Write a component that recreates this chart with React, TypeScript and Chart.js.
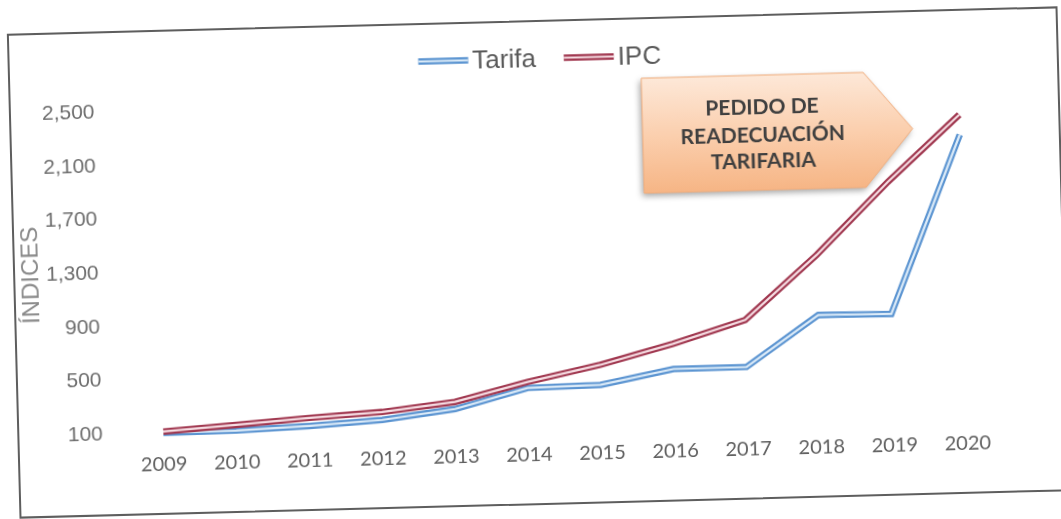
import React, { useEffect, useRef } from "react";
import { Chart, registerables } from "chart.js";

Chart.register(...registerables);

// ---- data ----
const years = ["2009", "2010", "2011", "2012", "2013", "2014", "2015", "2016", "2017", "2018", "2019", "2020"];
const tarifa = [100, 103, 123, 154, 221, 364, 373, 477, 478, 852, 845, 2169];
const ipc = [110, 145, 183, 213, 274, 409, 522, 664, 829, 1300, 1831, 2318];
const yMin = 100;
const yMax = 2500;
const yStep = 400;
const seriesNames = ["Tarifa", "IPC"];
const axisTitle = "ÍNDICES";
const calloutLines = ["PEDIDO DE", "READECUACIÓN", "TARIFARIA"];

// ---- styles ----
const TARIFA_OUTER = "#5b94d1";
const TARIFA_INNER = "#dcebf8";
const IPC_OUTER = "#a0374f";
const IPC_INNER = "#f6dde3";
const OUTER_W = 6.5;
const INNER_W = 2.2;

const CANVAS_W = 1047;
const CANVAS_H = 481;

const decorPlugin = {
  id: "decor",
  afterDraw(chart: any) {
    const ctx: CanvasRenderingContext2D = chart.ctx;

    // ---- legend (double-line symbols) ----
    ctx.save();
    ctx.font = '26px "Liberation Sans", Arial, sans-serif';
    const symW = 50;
    const gapT = 4;
    const gapItem = 28;
    const items = [
      { label: seriesNames[0], outer: TARIFA_OUTER, inner: TARIFA_INNER },
      { label: seriesNames[1], outer: IPC_OUTER, inner: IPC_INNER },
    ];
    const widths = items.map((it) => symW + gapT + ctx.measureText(it.label).width);
    const total = widths.reduce((a, b) => a + b, 0) + gapItem * (items.length - 1);
    let x = 530 - total / 2;
    const ly = 36.5;
    items.forEach((it, i) => {
      ctx.lineCap = "butt";
      ctx.beginPath();
      ctx.moveTo(x, ly);
      ctx.lineTo(x + symW, ly);
      ctx.strokeStyle = it.outer;
      ctx.lineWidth = OUTER_W;
      ctx.stroke();
      ctx.beginPath();
      ctx.moveTo(x, ly);
      ctx.lineTo(x + symW, ly);
      ctx.strokeStyle = it.inner;
      ctx.lineWidth = INNER_W;
      ctx.stroke();
      ctx.fillStyle = "#595959";
      ctx.textAlign = "left";
      ctx.textBaseline = "middle";
      ctx.fillText(it.label, x + symW + gapT, ly + 1);
      x += widths[i] + gapItem;
    });
    ctx.restore();

    // ---- callout arrow box ----
    const L = 631, S = 853, T = 901, top = 59, bot = 174;
    ctx.save();
    ctx.beginPath();
    ctx.moveTo(L, top);
    ctx.lineTo(S, top);
    ctx.lineTo(T, (top + bot) / 2);
    ctx.lineTo(S, bot);
    ctx.lineTo(L, bot);
    ctx.closePath();
    const g = ctx.createLinearGradient(0, top, 0, bot);
    g.addColorStop(0, "#fde8d8");
    g.addColorStop(0.5, "#fbcfae");
    g.addColorStop(1, "#f6b585");
    ctx.shadowColor = "rgba(0,0,0,0.35)";
    ctx.shadowBlur = 6;
    ctx.shadowOffsetX = -2;
    ctx.shadowOffsetY = 3;
    ctx.fillStyle = g;
    ctx.fill();
    ctx.shadowColor = "transparent";
    ctx.strokeStyle = "#f1ad7d";
    ctx.lineWidth = 1;
    ctx.stroke();
    ctx.fillStyle = "#3f3f3f";
    ctx.font = 'bold 21px Lato, "Open Sans", sans-serif';
    ctx.textAlign = "center";
    ctx.textBaseline = "middle";
    const ys = [91.5, 119, 145];
    calloutLines.forEach((t, i) => ctx.fillText(t, 751, ys[i]));
    ctx.restore();
  },
};

export default function App() {
  const ref = useRef<HTMLCanvasElement | null>(null);

  useEffect(() => {
    if (!ref.current) return;
    const mk = (label: string, data: number[], color: string, width: number, order: number) => ({
      label,
      data,
      borderColor: color,
      backgroundColor: color,
      borderWidth: width,
      pointRadius: 0,
      tension: 0,
      fill: false,
      order,
      clip: false as any,
      borderJoinStyle: "miter" as const,
    });
    const chart = new Chart(ref.current, {
      type: "line",
      data: {
        labels: years,
        datasets: [
          mk(seriesNames[0], tarifa, TARIFA_OUTER, OUTER_W, 4),
          mk(seriesNames[0] + " ", tarifa, TARIFA_INNER, INNER_W, 3),
          mk(seriesNames[1], ipc, IPC_OUTER, OUTER_W, 2),
          mk(seriesNames[1] + " ", ipc, IPC_INNER, INNER_W, 1),
        ],
      },
      options: {
        animation: false,
        responsive: false,
        maintainAspectRatio: false,
        layout: { padding: { top: 79.4, right: 62.5, left: 0, bottom: 0 } },
        plugins: {
          legend: { display: false },
          tooltip: { enabled: false },
        },
        scales: {
          x: {
            type: "category",
            offset: true,
            grid: { display: false, drawTicks: false },
            border: { display: false },
            ticks: {
              color: "#5f5f5f",
              font: { family: 'Lato, "Open Sans", sans-serif', size: 20 },
              padding: 20,
              maxRotation: 0,
              autoSkip: false,
            },
            afterFit: (s: any) => {
              s.height = 80;
            },
          },
          y: {
            min: yMin,
            max: yMax,
            grid: { display: false, drawTicks: false },
            border: { display: false },
            ticks: {
              stepSize: yStep,
              color: "#6e6e6e",
              font: { family: '"Liberation Sans", Arial, sans-serif', size: 21 },
              padding: 24,
              callback: (v: any) => Number(v).toLocaleString("en-US"),
            },
            title: {
              display: true,
              text: axisTitle,
              color: "#8a8a8a",
              font: { family: '"Liberation Sans", Arial, sans-serif', size: 24 },
              padding: { top: 2, bottom: 2 },
            },
            afterFit: (s: any) => {
              s.width = 107.5;
            },
          },
        },
      },
      plugins: [decorPlugin],
    });
    return () => chart.destroy();
  }, []);

  return (
    <div
      style={{
        position: "fixed",
        left: 0,
        top: 0,
        width: 1061,
        height: 519,
        overflow: "hidden",
        background: "#ffffff",
      }}
    >
      <div
        style={{
          position: "absolute",
          left: 12.5,
          top: 19.5,
          width: 1051,
          height: 485,
          boxSizing: "border-box",
          border: "2px solid #5e5e5e",
          background: "#ffffff",
          transform: "rotate(-1.5deg)",
        }}
      >
        <canvas ref={ref} width={CANVAS_W} height={CANVAS_H} style={{ display: "block" }} />
      </div>
    </div>
  );
}
